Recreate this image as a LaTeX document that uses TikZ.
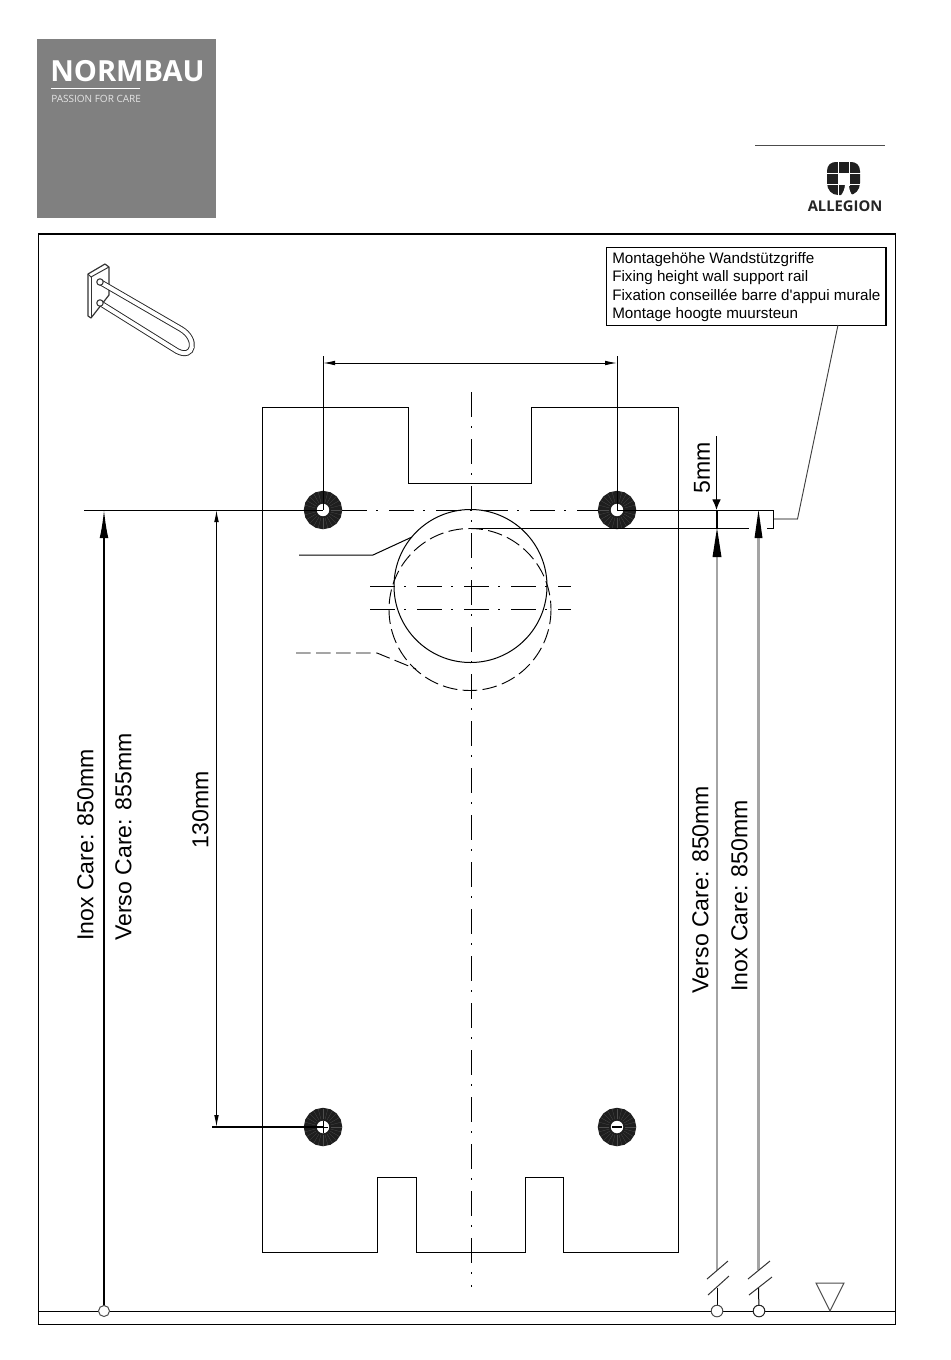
\documentclass[tikz,border=0pt]{standalone}
\usepackage{fontspec}
\setmainfont{Liberation Sans}
\newfontfamily\logofont{Open Sans}
\usetikzlibrary{arrows.meta}
\definecolor{logogrey}{HTML}{808080}
\definecolor{ringdark}{HTML}{1E1E1E}
\definecolor{shaftgrey}{HTML}{A4A4A4}
\tikzset{
  thinline/.style={line width=0.75pt},
  frameline/.style={line width=0.85pt},
  axisline/.style={line width=0.7pt, dash pattern=on 18.75pt off 6.8pt on 1.2pt off 8.5pt},
  dashline/.style={line width=0.7pt, dash pattern=on 11pt off 4pt},
  dimtext/.style={rotate=90, font=\fontsize{17.3pt}{20pt}\selectfont, inner sep=0pt},
  notetext/.style={anchor=west, font=\fontsize{11.4pt}{13pt}\selectfont, inner sep=0pt},
  bigtip/.style={-{Latex[length=21pt, width=6.5pt]}},
  midtip/.style={-{Latex[length=8pt, width=6.5pt]}},
  smalltip/.style={{Latex[length=9pt, width=3.5pt]}-{Latex[length=9pt, width=3.5pt]}},
}
\newcommand{\ringhole}[1]{
  \begin{scope}[shift={(#1)}]
  \draw[ringdark, line width=9.5pt] (0,0) circle [radius=12.8];
  \foreach \ang in {0,15,...,345}
    \draw[black!70, line width=0.2pt] (\ang:8) -- (\ang:18.5);
  \end{scope}
}
\begin{document}
\begin{tikzpicture}[x=0.75pt, y=-0.75pt]
\useasboundingbox (0,0) rectangle (950,1360);

% logo blocks
\fill[logogrey] (36.5,39) rectangle (215.5,217.5);
\node[anchor=base west, inner sep=0pt, white, font=\logofont\bfseries\fontsize{21.8pt}{24pt}\selectfont] (brand) at (50,81.5) {NORMBAU};
\coordinate (brandL) at (51,88.5);
\coordinate (brandR) at (140,88.5);
\draw[white, line width=1pt] (brandL) -- (brandR);
\node[anchor=base west, inner sep=0pt, white!80!logogrey, font=\logofont\fontsize{7.5pt}{8pt}\selectfont] (claim) at (51,102.5) {PASSION FOR CARE};

\coordinate (ruleL) at (755,145.5);
\coordinate (ruleR) at (884.5,145.5);
\draw[black!70, line width=0.8pt] (ruleL) -- (ruleR);

% allegion mark
\fill[black!88] (827,171) .. controls (827,165) and (831,162) .. (836,162) -- (851,162) .. controls (856,162) and (860,165) .. (860,171) -- (860,183) .. controls (860,190) and (855,195) .. (849,195) -- (838,195) .. controls (832,195) and (827,190) .. (827,183) -- cycle;
\draw[white, line width=0.75pt] (838,161) -- (838,196);
\draw[white, line width=0.75pt] (849.5,161) -- (849.5,186);
\draw[white, line width=0.75pt] (826,173.5) -- (861,173.5);
\draw[white, line width=0.75pt] (826,184.5) -- (861,184.5);
\fill[white] (838,173.5) rectangle (849.5,184.5);
\fill[white] (845,184) .. controls (845,189) and (843,193) .. (840.5,196) -- (853,196) .. controls (850,193) and (849,189) .. (849,184) -- cycle;
\node[anchor=base west, inner sep=0pt, black!85, font=\logofont\bfseries\fontsize{11.1pt}{12pt}\selectfont] (allegion) at (807.5,211) {ALLEGION};

% frame
\draw[frameline] (38.5,234) rectangle (895.5,1324.5);
\coordinate (groundL) at (38.5,1311);
\coordinate (groundR) at (895.5,1311);
\draw[thinline] (groundL) -- (groundR);

% handle icon
\draw[line width=0.9pt, black!80, line join=round, fill=white] (88,274) -- (105,264) -- (109,267) -- (109,295) -- (91,318) -- (88,316) -- cycle;
\draw[line width=0.7pt, black!80] (88,274) -- (91,277) -- (109,267);
\draw[line width=0.7pt, black!80] (91,277) -- (91,318);
\draw[line width=4.4pt, black!85] (100,282) -- (181,329) .. controls (198,339) and (194,360) .. (177,351) -- (100,303);
\draw[line width=3pt, white] (100,282) -- (181,329) .. controls (198,339) and (194,360) .. (177,351) -- (100,303);
\draw[line width=0.8pt, black!80, fill=white] (100,282) circle [radius=3.2];
\draw[line width=0.8pt, black!80, fill=white] (100,303) circle [radius=3.2];

% note box
\node[draw, line width=1pt, anchor=north west, minimum width=209.5pt, minimum height=58.5pt, inner sep=0pt] (notebox) at (606,247) {};
\node[notetext] (noteA) at (612,259.5) {Montagehöhe Wandstützgriffe};
\node[notetext] (noteB) at (612,277.5) {Fixing height wall support rail};
\node[notetext] (noteC) at (612,296) {Fixation conseillée barre d\textquotesingle appui murale};
\node[notetext] (noteD) at (612,314.5) {Montage hoogte muursteun};

% plate
\draw[thinline, line join=miter] (262,407) -- (408.5,407) -- (408.5,483) -- (531,483) -- (531,407) -- (678,407) -- (678,1252.5) -- (563.5,1252.5) -- (563.5,1177) -- (525,1177) -- (525,1252.5) -- (416.5,1252.5) -- (416.5,1177) -- (377,1177) -- (377,1252.5) -- (262,1252.5) -- cycle;

% holes
\coordinate (holeTL) at (323,510);
\coordinate (holeTR) at (617,510);
\coordinate (holeBL) at (323,1127);
\coordinate (holeBR) at (617,1127);
\ringhole{holeTL}
\ringhole{holeTR}
\ringhole{holeBL}
\ringhole{holeBR}

% circles
\draw[thinline] (470.5,586) circle [radius=76.5];
\draw[dashline] (470,609.5) circle [radius=81];

% axes
\coordinate (axisT) at (471,392);
\coordinate (axisB) at (471,1287);
\draw[axisline] (axisT) -- (axisB);
\coordinate (axisA) at (342,510);
\coordinate (axisC) at (598,510);
\draw[axisline] (axisA) -- (axisC);
\coordinate (slotAL) at (370,586.5);
\coordinate (slotAR) at (571,586.5);
\coordinate (slotBL) at (370,609.5);
\coordinate (slotBR) at (571,609.5);
\draw[axisline] (slotAL) -- (slotAR);
\draw[axisline] (slotBL) -- (slotBR);

% leaders of the circles
\coordinate (solidA) at (299,555);
\coordinate (solidB) at (373,555);
\coordinate (solidC) at (412,537);
\draw[thinline] (solidA) -- (solidB) -- (solidC);
\coordinate (dashA) at (296,653);
\coordinate (dashB) at (377,653);
\coordinate (dashC) at (416,669);
\draw[dashline] (dashA) -- (dashB) -- (dashC);

% top dimension
\coordinate (spanL) at (323,363);
\coordinate (spanR) at (617,363);
\coordinate (extL) at (323,356);
\coordinate (extR) at (617,356);
\draw[thinline] (extL) -- (holeTL);
\draw[thinline] (extR) -- (holeTR);
\draw[thinline, smalltip] (spanL) -- (spanR);

% datum lines
\coordinate (datumL) at (84,510);
\coordinate (datumR) at (773.5,510);
\coordinate (lowerL) at (471,528);
\coordinate (lowerR) at (749,528);
\coordinate (stubL) at (767,528);
\coordinate (stubR) at (773.5,528);
\draw[thinline] (datumL) -- (holeTL);
\draw[thinline] (holeTR) -- (datumR) -- (stubR) -- (stubL);
\draw[thinline] (lowerL) -- (lowerR);

% note leader
\coordinate (leadA) at (773.5,519);
\coordinate (leadB) at (797.5,519);
\coordinate (leadC) at (838,325);
\draw[shaftgrey, line width=1.2pt] (leadA) -- (leadB);
\draw[black!75, line width=0.7pt] (leadB) -- (leadC);

% height arrows
\coordinate (inoxL) at (104,1311);
\coordinate (inoxLtop) at (104,510);
\draw[line width=1.1pt, bigtip] (inoxL) -- (inoxLtop);
\draw[thinline, black!70, fill=white] (inoxL) circle [radius=5.5];

\coordinate (dimT) at (216.5,510);
\coordinate (dimB) at (216.5,1127);
\draw[thinline, smalltip] (dimT) -- (dimB);
\coordinate (dimBL) at (212,1127);
\draw[line width=1.1pt] (dimBL) -- (holeBL);

\coordinate (fiveT) at (716.5,436);
\coordinate (fiveB) at (716.5,510);
\draw[line width=0.9pt, midtip] (fiveT) -- (fiveB);
\coordinate (fiveC) at (716.5,528);
\draw[line width=1.5pt] (fiveB) -- (fiveC);

\coordinate (versoR) at (717,1270);
\draw[shaftgrey, line width=1.2pt] (versoR) -- (717,550);
\fill[black] (717,528) -- (721.5,557) -- (712.5,557) -- cycle;
\coordinate (inoxR) at (758.5,1270);
\draw[shaftgrey, line width=1.6pt] (inoxR) -- (758.5,530);
\fill[black] (758.5,510) -- (762.5,538) -- (754.5,538) -- cycle;

% breaks at the foot
\coordinate (versoF) at (717,1288);
\coordinate (versoG) at (717,1311);
\coordinate (inoxF) at (758.5,1288);
\coordinate (inoxG) at (759,1311);
\draw[thinline] (versoF) -- (versoG);
\draw[thinline] (inoxF) -- (inoxG);
\draw[thinline, black!80] (707,1279) -- (728,1261);
\draw[thinline, black!80] (708,1295) -- (729,1276);
\draw[thinline, black!80] (748,1279) -- (770,1261);
\draw[thinline, black!80] (749,1295) -- (772,1277);
\draw[thinline, black!70, fill=white] (versoG) circle [radius=5.8];
\draw[thinline, black!85, fill=white] (inoxG) circle [radius=5.8];
\draw[thinline, black!70] (816,1283) -- (844,1283) -- (830,1311) -- cycle;

% hole details
\draw[line width=0.5pt] (318,1127) -- (328,1127);
\draw[line width=0.5pt] (323,1121) -- (323,1133);
\draw[line width=1.2pt] (612,1127) -- (622,1127);

% labels
\node[dimtext] (lblInoxL) at (85.5,845) {Inox Care: 850mm};
\node[dimtext] (lblVersoL) at (123.5,837) {Verso Care: 855mm};
\node[dimtext] (lblDim) at (200.5,810) {130mm};
\node[dimtext] (lblVersoR) at (700.5,889.5) {Verso Care: 850mm};
\node[dimtext] (lblInoxR) at (739.5,896) {Inox Care: 850mm};
\node[dimtext] (lblFive) at (702,468) {5mm};
\end{tikzpicture}
\end{document}
